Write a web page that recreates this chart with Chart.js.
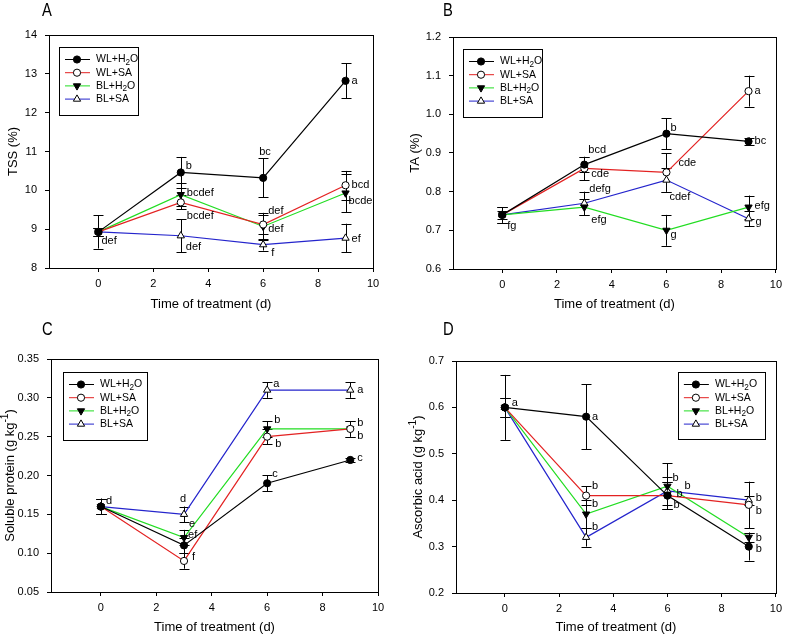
<!DOCTYPE html>
<html>
<head>
<meta charset="utf-8">
<script src="https://cdn.jsdelivr.net/npm/chart.js@4/dist/chart.umd.min.js"></script>
<style>
body { margin: 0; background: #fff; width: 787px; height: 636px; position: relative; overflow: hidden; }
canvas { position: absolute; }
</style>
</head>
<body>
<canvas id="cA" width="393" height="318" style="left:0;top:0"></canvas>
<canvas id="cB" width="394" height="318" style="left:393px;top:0"></canvas>
<canvas id="cC" width="393" height="318" style="left:0;top:318px"></canvas>
<canvas id="cD" width="394" height="318" style="left:393px;top:318px"></canvas>
<script>
// data
const days = [0, 3, 6, 9];
const seriesNames = ["WL+H_{2}O", "WL+SA", "BL+H_{2}O", "BL+SA"];
const xTicks = [0, 2, 4, 6, 8, 10];
const xTitle = "Time of treatment (d)";

// A - TSS
const tssWLH2O = [8.93, 10.46, 10.32, 12.82];
const tssWLSA = [8.93, 9.69, 9.12, 10.13];
const tssBLH2O = [8.93, 9.89, 9.07, 9.93];
const tssBLSA = [8.93, 8.83, 8.60, 8.77];
const tssErrWLH2O = [0.43, 0.40, 0.50, 0.45];
const tssErrWLSA = [0.10, 0.18, 0.25, 0.37];
const tssErrBLH2O = [0.10, 0.30, 0.35, 0.50];
const tssErrBLSA = [0.10, 0.42, 0.15, 0.37];
const tssTicks = [8, 9, 10, 11, 12, 13, 14];
const tssLetters = [[0, 0, "def"], [0, 1, "b"], [0, 2, "bc"], [0, 3, "a"], [2, 1, "bcdef"], [1, 1, "bcdef"],
  [3, 1, "def"], [1, 2, "def"], [2, 2, "def"], [3, 2, "f"], [1, 3, "bcd"], [2, 3, "bcde"], [3, 3, "ef"]];

// B - TA
const taWLH2O = [0.74, 0.87, 0.95, 0.93];
const taWLSA = [0.74, 0.86, 0.85, 1.06];
const taBLH2O = [0.74, 0.76, 0.70, 0.76];
const taBLSA = [0.74, 0.77, 0.83, 0.73];
const taErrWLH2O = [0.02, 0.02, 0.04, 0.01];
const taErrWLSA = [0.02, 0.03, 0.05, 0.04];
const taErrBLH2O = [0.01, 0.02, 0.04, 0.03];
const taErrBLSA = [0.02, 0.03, 0.03, 0.02];
const taTicks = [0.6, 0.7, 0.8, 0.9, 1.0, 1.1, 1.2];
const taLetters = [[0, 0, "fg"], [0, 1, "bcd"], [1, 1, "cde"], [3, 1, "defg"], [2, 1, "efg"], [0, 2, "b"],
  [1, 2, "cde"], [3, 2, "cdef"], [2, 2, "g"], [1, 3, "a"], [0, 3, "bc"], [2, 3, "efg"], [3, 3, "g"]];

// C - soluble protein
const spWLH2O = [0.16, 0.11, 0.19, 0.22];
const spWLSA = [0.16, 0.09, 0.25, 0.26];
const spBLH2O = [0.16, 0.12, 0.26, 0.26];
const spBLSA = [0.16, 0.15, 0.31, 0.31];
const spErrWLH2O = [0.01, 0.01, 0.01, 0.003];
const spErrWLSA = [0.01, 0.01, 0.01, 0.01];
const spErrBLH2O = [0.01, 0.01, 0.01, 0.01];
const spErrBLSA = [0.01, 0.01, 0.01, 0.01];
const spTicks = [0.05, 0.10, 0.15, 0.20, 0.25, 0.30, 0.35];
const spLetters = [[0, 0, "d"], [3, 1, "d"], [2, 1, "e"], [2, 1, "ef"], [1, 1, "f"], [3, 2, "a"], [2, 2, "b"],
  [1, 2, "b"], [0, 2, "c"], [3, 3, "a"], [2, 3, "b"], [1, 3, "b"], [0, 3, "c"]];

// D - ascorbic acid
const aaWLH2O = [0.60, 0.58, 0.41, 0.30];
const aaWLSA = [0.60, 0.41, 0.41, 0.39];
const aaBLH2O = [0.60, 0.37, 0.43, 0.32];
const aaBLSA = [0.60, 0.32, 0.42, 0.40];
const aaErrWLH2O = [0.07, 0.07, 0.03, 0.03];
const aaErrWLSA = [0.02, 0.02, 0.03, 0.05];
const aaErrBLH2O = [0.02, 0.03, 0.05, 0.01];
const aaErrBLSA = [0.02, 0.02, 0.03, 0.01];
const aaTicks = [0.2, 0.3, 0.4, 0.5, 0.6, 0.7];
const aaLetters = [[0, 0, "a"], [0, 1, "a"], [1, 1, "b"], [2, 1, "b"], [3, 1, "b"], [2, 2, "b"], [3, 2, "b"],
  [1, 2, "b"], [0, 2, "b"], [3, 3, "b"], [1, 3, "b"], [2, 3, "b"], [0, 3, "b"]];

// styles
const FONT = "Arial, 'Liberation Sans', Helvetica, sans-serif";
const lineColors = ["#000000", "#e32222", "#22dd22", "#2424cc"];
const pointFills = ["#000000", "#ffffff", "#000000", "#ffffff"];
const pointStyles = ["circle", "circle", "triangle", "triangle"];
const pointRots = [0, 0, 180, 0];
const pointRads = [3.6, 3.6, 4.2, 4.2];

// letter offsets (px from the point, left aligned, middle baseline)
const tssOff = [[3, 9], [5, -7], [-4, -26], [6, 0], [6, -2], [6, 14], [5, 11], [5, -14], [5, 3], [8, 8], [6, 0], [3, 8], [6, 1]];
const taOff = [[5, 11], [4, -15], [7, 6], [5, -14], [7, 13], [4, -6], [12, -9], [3, 17], [4, 5], [6, 0], [6, 0], [6, -1], [7, 3]];
const spOff = [[5, -6], [-4, -15], [5, -14], [4, -3], [8, -4], [6, -6], [7, -9], [8, 7], [5, -9], [7, 0], [7, -6], [7, 7], [7, -2]];
const aaOff = [[7, -4], [6, 0], [6, -10], [6, -10], [6, -10], [5, -8], [17, -5], [9, -2], [6, 9], [7, -2], [7, 6], [7, 1], [7, 2]];

const panels = [
  { id: "cA", tag: "A", vals: [tssWLH2O, tssWLSA, tssBLH2O, tssBLSA], errs: [tssErrWLH2O, tssErrWLSA, tssErrBLH2O, tssErrBLSA],
    yTicks: tssTicks, dec: 0, yTitle: "TSS (%)", letters: tssLetters, off: tssOff,
    g: { w: 393, h: 318, L: 49, T: 35, R: 373, B: 268, yT: 13, xT: 304, tagX: 42, tagY: 2, leg: { x: 10, y: 12, w: 79, h: 68, right: false } } },
  { id: "cB", tag: "B", vals: [taWLH2O, taWLSA, taBLH2O, taBLSA], errs: [taErrWLH2O, taErrWLSA, taErrBLH2O, taErrBLSA],
    yTicks: taTicks, dec: 1, yTitle: "TA (%)", letters: taLetters, off: taOff,
    g: { w: 394, h: 318, L: 60, T: 37, R: 386, B: 269, yT: 22, xT: 304, tagX: 50, tagY: 2, leg: { x: 10, y: 12, w: 79, h: 68, right: false } } },
  { id: "cC", tag: "C", vals: [spWLH2O, spWLSA, spBLH2O, spBLSA], errs: [spErrWLH2O, spErrWLSA, spErrBLH2O, spErrBLSA],
    yTicks: spTicks, dec: 2, yTitle: "Soluble protein (g kg^{-1})", letters: spLetters, off: spOff,
    g: { w: 393, h: 318, L: 51, T: 41, R: 378, B: 274, yT: 10, xT: 309, tagX: 42, tagY: 3, leg: { x: 12, y: 13, w: 84, h: 68, right: false } } },
  { id: "cD", tag: "D", vals: [aaWLH2O, aaWLSA, aaBLH2O, aaBLSA], errs: [aaErrWLH2O, aaErrWLSA, aaErrBLH2O, aaErrBLSA],
    yTicks: aaTicks, dec: 1, yTitle: "Ascorbic acid (g kg^{-1})", letters: aaLetters, off: aaOff,
    g: { w: 394, h: 318, L: 63, T: 43, R: 388, B: 275, yT: 25, xT: 309, tagX: 50, tagY: 3, leg: { x: 11, y: 11, w: 87, h: 67, right: true } } }
];

function parseRich(s) {
  const parts = [];
  const re = /([_^])\{([^}]*)\}/g;
  let last = 0, m;
  while ((m = re.exec(s))) {
    if (m.index > last) parts.push({ t: s.slice(last, m.index), k: 0 });
    parts.push({ t: m[2], k: m[1] === "_" ? 1 : -1 });
    last = re.lastIndex;
  }
  if (last < s.length) parts.push({ t: s.slice(last), k: 0 });
  return parts;
}

function drawRich(ctx, s, x, y, size, align) {
  const parts = parseRich(s);
  let w = 0;
  parts.forEach(p => {
    ctx.font = (p.k ? size * 0.78 : size) + "px " + FONT;
    p.w = ctx.measureText(p.t).width;
    w += p.w;
  });
  let cx = align === "center" ? x - w / 2 : x;
  ctx.textAlign = "left";
  ctx.textBaseline = "middle";
  parts.forEach(p => {
    ctx.font = (p.k ? size * 0.78 : size) + "px " + FONT;
    const dy = p.k === 1 ? size * 0.3 : p.k === -1 ? -size * 0.35 : 0;
    ctx.fillText(p.t, cx, y + dy);
    cx += p.w;
  });
}

function drawMarker(ctx, i, x, y) {
  ctx.save();
  ctx.fillStyle = pointFills[i];
  ctx.strokeStyle = "#000";
  ctx.lineWidth = 1;
  Chart.helpers.drawPoint(ctx, { pointStyle: pointStyles[i], rotation: pointRots[i], radius: pointRads[i], borderWidth: 1 }, x, y);
  ctx.restore();
}

const panelPlugin = {
  id: "panel",
  beforeDatasetsDraw(chart) {
    const p = chart.config.options.plugins.panel.p;
    const ctx = chart.ctx;
    const xs = chart.scales.x, ys = chart.scales.y;
    ctx.save();
    ctx.strokeStyle = "#000";
    ctx.lineWidth = 1;
    p.vals.forEach((vals, s) => {
      vals.forEach((v, i) => {
        const e = p.errs[s][i];
        const x = Math.round(xs.getPixelForValue(days[i])) + 0.5;
        const y1 = ys.getPixelForValue(v + e), y2 = ys.getPixelForValue(v - e);
        ctx.beginPath();
        ctx.moveTo(x, y1); ctx.lineTo(x, y2);
        ctx.moveTo(x - 5, Math.round(y1) + 0.5); ctx.lineTo(x + 5, Math.round(y1) + 0.5);
        ctx.moveTo(x - 5, Math.round(y2) + 0.5); ctx.lineTo(x + 5, Math.round(y2) + 0.5);
        ctx.stroke();
      });
    });
    ctx.restore();
  },
  afterDraw(chart) {
    const p = chart.config.options.plugins.panel.p;
    const g = p.g;
    const ctx = chart.ctx;
    const a = chart.chartArea;
    const xs = chart.scales.x, ys = chart.scales.y;
    ctx.save();
    // frame
    ctx.strokeStyle = "#000";
    ctx.lineWidth = 1;
    ctx.strokeRect(Math.round(a.left) + 0.5, Math.round(a.top) + 0.5, Math.round(a.right - a.left), Math.round(a.bottom - a.top));
    // letters
    ctx.fillStyle = "#000";
    p.letters.forEach((L, k) => {
      const x = xs.getPixelForValue(days[L[1]]) + p.off[k][0];
      const y = ys.getPixelForValue(p.vals[L[0]][L[1]]) + p.off[k][1];
      drawRich(ctx, L[2], x, y, 11, "left");
    });
    // legend
    const lg = g.leg;
    const bx = lg.right ? a.right - lg.x - lg.w : a.left + lg.x;
    const by = a.top + lg.y;
    ctx.fillStyle = "#fff";
    ctx.fillRect(bx, by, lg.w, lg.h);
    ctx.strokeStyle = "#000";
    ctx.lineWidth = 1;
    ctx.strokeRect(Math.round(bx) + 0.5, Math.round(by) + 0.5, lg.w, lg.h);
    seriesNames.forEach((name, i) => {
      const ry = by + 12.5 + i * 13.2;
      ctx.strokeStyle = lineColors[i];
      ctx.beginPath();
      ctx.moveTo(bx + 6, ry); ctx.lineTo(bx + 31, ry);
      ctx.stroke();
      drawMarker(ctx, i, bx + 18, ry);
      ctx.fillStyle = "#000";
      drawRich(ctx, name, bx + 37, ry, 10.5, "left");
    });
    // axis titles
    ctx.fillStyle = "#000";
    drawRich(ctx, xTitle, (a.left + a.right) / 2, g.xT, 13, "center");
    ctx.save();
    ctx.translate(g.yT, (a.top + a.bottom) / 2);
    ctx.rotate(-Math.PI / 2);
    drawRich(ctx, p.yTitle, 0, 0, 13, "center");
    ctx.restore();
    // panel tag
    ctx.save();
    ctx.translate(g.tagX, g.tagY);
    ctx.scale(0.82, 1);
    ctx.font = "18px " + FONT;
    ctx.textAlign = "left";
    ctx.textBaseline = "top";
    ctx.fillText(p.tag, 0, 0);
    ctx.restore();
    ctx.restore();
  }
};

panels.forEach(p => {
  const g = p.g;
  new Chart(document.getElementById(p.id), {
    type: "line",
    data: {
      datasets: p.vals.map((vals, i) => ({
        label: seriesNames[i],
        data: days.map((d, k) => ({ x: d, y: vals[k] })),
        borderColor: lineColors[i],
        borderWidth: 1.2,
        tension: 0,
        pointStyle: pointStyles[i],
        rotation: pointRots[i],
        pointRadius: pointRads[i],
        pointBackgroundColor: pointFills[i],
        pointBorderColor: "#000",
        pointBorderWidth: 1,
        clip: false
      }))
    },
    options: {
      responsive: false,
      animation: false,
      devicePixelRatio: 1,
      layout: { autoPadding: false, padding: { left: 0, top: g.T, right: g.w - g.R, bottom: 0 } },
      plugins: { legend: { display: false }, tooltip: { enabled: false }, panel: { p: p } },
      scales: {
        x: {
          type: "linear", min: -1.8, max: 10,
          afterBuildTicks: s => { s.ticks = xTicks.map(v => ({ value: v })); },
          afterFit: s => { s.height = g.h - g.B; },
          ticks: { color: "#000", font: { size: 11, family: FONT }, padding: 5, maxRotation: 0 },
          grid: { drawOnChartArea: false, drawTicks: true, tickLength: 4, color: "#000" },
          border: { color: "#000" }
        },
        y: {
          type: "linear", min: p.yTicks[0], max: p.yTicks[p.yTicks.length - 1],
          afterBuildTicks: s => { s.ticks = p.yTicks.map(v => ({ value: v })); },
          afterFit: s => { s.width = g.L; },
          ticks: { color: "#000", font: { size: 11, family: FONT }, padding: 8, callback: v => Number(v).toFixed(p.dec) },
          grid: { drawOnChartArea: false, drawTicks: true, tickLength: 4, color: "#000" },
          border: { color: "#000" }
        }
      }
    },
    plugins: [panelPlugin]
  });
});
</script>
</body>
</html>
